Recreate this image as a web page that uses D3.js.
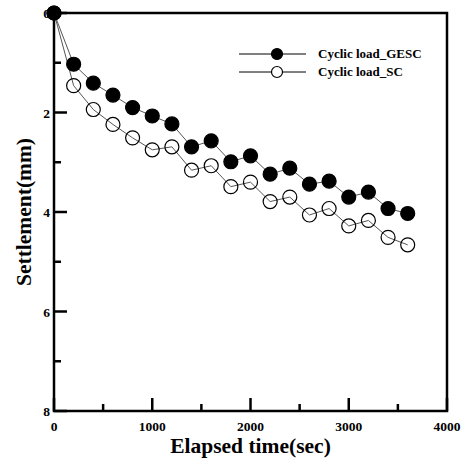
<!DOCTYPE html>
<html>
<head>
<meta charset="utf-8">
<script src="https://cdn.jsdelivr.net/npm/d3@7"></script>
<style>
  body { margin: 0; background: #fff; }
  text { font-family: "Liberation Serif", "Times New Roman", serif; font-weight: bold; }
</style>
</head>
<body>
<div id="chart"></div>
<script>
// Elapsed time (sec)
const times = [0, 200, 400, 600, 800, 1000, 1200, 1400, 1600, 1800, 2000, 2200, 2400, 2600, 2800, 3000, 3200, 3400, 3600];
// Settlement (mm)
const gescValues = [0, 1.03, 1.41, 1.65, 1.90, 2.07, 2.23, 2.69, 2.57, 2.99, 2.87, 3.24, 3.12, 3.44, 3.38, 3.70, 3.60, 3.93, 4.03];
const scValues = [0, 1.46, 1.94, 2.24, 2.51, 2.75, 2.69, 3.16, 3.07, 3.49, 3.40, 3.79, 3.70, 4.06, 3.93, 4.28, 4.17, 4.51, 4.66];
const seriesNames = ['Cyclic load_GESC', 'Cyclic load_SC'];
const xTicks = [0, 1000, 2000, 3000, 4000];
const xMinorTicks = [500, 1500, 2500, 3500];
const yTicks = [0, 2, 4, 6, 8];
const yMinorTicks = [1, 3, 5, 7];

const width = 467, height = 462;
const margin = { left: 54, right: 20, top: 13, bottom: 51 };

const svg = d3.select('#chart').append('svg')
  .attr('width', width)
  .attr('height', height);

const x = d3.scaleLinear().domain([0, 4000]).range([margin.left, width - margin.right]);
const y = d3.scaleLinear().domain([0, 8]).range([margin.top, height - margin.bottom]);

// Ticks (inward), major and minor
const tickG = svg.append('g').attr('stroke', '#000').attr('stroke-width', 2.5);
tickG.selectAll('.xt').data(xTicks.concat(xMinorTicks)).enter().append('line')
  .attr('x1', d => x(d)).attr('x2', d => x(d))
  .attr('y1', y(8)).attr('y2', d => y(8) - (d % 1000 === 0 ? 13 : 7));
tickG.selectAll('.yt').data(yTicks.concat(yMinorTicks)).enter().append('line')
  .attr('y1', d => y(d)).attr('y2', d => y(d))
  .attr('x1', x(0)).attr('x2', d => x(0) + (d % 2 === 0 ? 13 : 7));

// Frame
svg.append('rect')
  .attr('x', x(0)).attr('y', y(0))
  .attr('width', x(4000) - x(0)).attr('height', y(8) - y(0))
  .attr('fill', 'none').attr('stroke', '#000').attr('stroke-width', 2.5);

// Tick labels
svg.selectAll('.xlab').data(xTicks).enter().append('text')
  .attr('class', 'xlab')
  .attr('x', d => x(d))
  .attr('y', y(8) + 20)
  .attr('text-anchor', 'middle')
  .style('font-size', '13.5px')
  .text(d => d);

svg.selectAll('.ylab').data(yTicks).enter().append('text')
  .attr('class', 'ylab')
  .attr('x', x(0) - 4)
  .attr('y', d => y(d) + 5)
  .attr('text-anchor', 'end')
  .style('font-size', '13.5px')
  .text(d => d);

// Axis titles
svg.append('text')
  .attr('x', (x(0) + x(4000)) / 2)
  .attr('y', 453)
  .attr('text-anchor', 'middle')
  .style('font-size', '21.5px')
  .text('Elapsed time(sec)');

svg.append('text')
  .attr('transform', 'rotate(-90)')
  .attr('x', -212)
  .attr('y', 31)
  .attr('text-anchor', 'middle')
  .style('font-size', '21.5px')
  .text('Settlement(mm)');

// Series
const line = d3.line().x(d => x(d[0])).y(d => y(d[1]));
const series = [
  { name: seriesNames[0], values: gescValues, fill: '#000' },
  { name: seriesNames[1], values: scValues, fill: 'none' }
];

series.forEach(s => {
  const pts = times.map((t, i) => [t, s.values[i]]);
  svg.append('path')
    .datum(pts)
    .attr('d', line)
    .attr('fill', 'none')
    .attr('stroke', '#555')
    .attr('stroke-width', 1);
});

series.slice().reverse().forEach(s => {
  const pts = times.map((t, i) => [t, s.values[i]]);
  svg.selectAll(null).data(pts).enter().append('circle')
    .attr('cx', d => x(d[0]))
    .attr('cy', d => y(d[1]))
    .attr('r', 7)
    .attr('fill', s.fill)
    .attr('stroke', '#000')
    .attr('stroke-width', 1.2);
});

// Legend
series.forEach((s, i) => {
  const ly = 54 + i * 18;
  svg.append('line')
    .attr('x1', 239).attr('x2', 306)
    .attr('y1', ly).attr('y2', ly)
    .attr('stroke', '#000').attr('stroke-width', 1);
  svg.append('circle')
    .attr('cx', 277).attr('cy', ly).attr('r', 5.5)
    .attr('fill', s.fill === 'none' ? '#fff' : s.fill)
    .attr('stroke', '#000').attr('stroke-width', 1.2);
  svg.append('text')
    .attr('x', 318).attr('y', ly + 4)
    .style('font-size', '13px')
    .text(s.name);
});
</script>
</body>
</html>
